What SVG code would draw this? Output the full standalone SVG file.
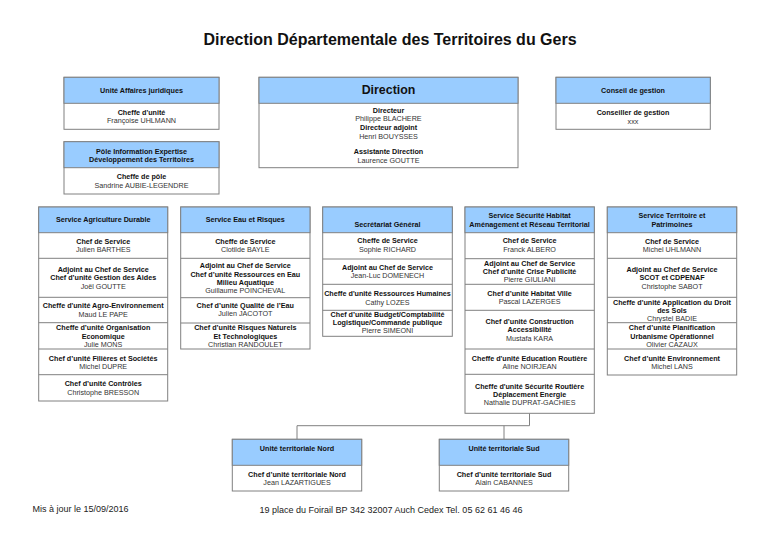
<svg xmlns="http://www.w3.org/2000/svg" width="768" height="543" viewBox="0 0 768 543">
<style>
text{font-family:"Liberation Sans",Arial,sans-serif;text-anchor:middle}
.b{font-size:7.2px;font-weight:bold;fill:#111}
.r{font-size:7.2px;fill:#333}
.hd{fill:#99CCFF;stroke:#808080;stroke-width:1}
.bx{fill:#fff;stroke:#808080;stroke-width:1}
.dv{stroke:#808080;stroke-width:1}
.cn{fill:none;stroke:#808080;stroke-width:1}
</style>
<rect width="768" height="543" fill="#fff"/>
<text x="390" y="45" style="font-size:16px;font-weight:bold;fill:#111">Direction Départementale des Territoires du Gers</text>

<g id="connectors">
<path class="cn" d="M529.5,413.3 V425.7 M297,425.7 H529.5 M297,425.7 V439.3 M504,425.7 V439.3"/>
</g>

<g id="uaj">
<rect class="bx" x="64" y="77.3" width="155" height="52"/>
<rect class="hd" x="64" y="77.3" width="155" height="26"/>
<text class="b" x="141.5" y="93.2">Unité Affaires juridiques</text>
<text class="b" x="141.5" y="114.8">Cheffe d'unité</text>
<text class="r" x="141.5" y="123.2">Françoise UHLMANN</text>
</g>

<g id="direction">
<rect class="bx" x="259" y="77.3" width="259" height="90.4"/>
<rect class="hd" x="259" y="77.3" width="259" height="26"/>
<text x="388.5" y="94.4" style="font-size:12.4px;font-weight:bold;fill:#111">Direction</text>
<text class="b" x="388.5" y="112.5">Directeur</text>
<text class="r" x="388.5" y="121.3">Philippe BLACHERE</text>
<text class="b" x="388.5" y="129.8">Directeur adjoint</text>
<text class="r" x="388.5" y="138.5">Henri BOUYSSES</text>
<text class="b" x="388.5" y="154.2">Assistante Direction</text>
<text class="r" x="388.5" y="162.6">Laurence GOUTTE</text>
</g>

<g id="conseil">
<rect class="bx" x="556" y="77.3" width="154.3" height="52"/>
<rect class="hd" x="556" y="77.3" width="154.3" height="26"/>
<text class="b" x="633" y="93.2">Conseil de gestion</text>
<text class="b" x="633" y="115.2">Conseiller de gestion</text>
<text class="r" x="633" y="123.6">xxx</text>
</g>

<g id="pole">
<rect class="bx" x="64" y="141.7" width="155" height="52.3"/>
<rect class="hd" x="64" y="141.7" width="155" height="26"/>
<text class="b" x="141.5" y="153.5">Pôle Information Expertise</text>
<text class="b" x="141.5" y="161.8">Développement des Territoires</text>
<text class="b" x="141.5" y="179.2">Cheffe de pôle</text>
<text class="r" x="141.5" y="187.5">Sandrine AUBIE-LEGENDRE</text>
</g>

<g id="agri">
<rect class="bx" x="38.7" y="207" width="129" height="194"/>
<rect class="hd" x="38.7" y="207" width="129" height="25.7"/>
<path class="dv" d="M38.7,258.3H167.7M38.7,297.3H167.7M38.7,322.7H167.7M38.7,349H167.7M38.7,374.7H167.7"/>
<text class="b" x="103.2" y="221.8">Service Agriculture Durable</text>
<text class="b" x="103.2" y="243.8">Chef de Service</text>
<text class="r" x="103.2" y="252.2">Julien BARTHES</text>
<text class="b" x="103.2" y="271.5">Adjoint au Chef de Service</text>
<text class="b" x="103.2" y="279.8">Chef d’unité Gestion des Aides</text>
<text class="r" x="103.2" y="288.8">Joël GOUTTE</text>
<text class="b" x="103.2" y="307.8">Cheffe d'unité Agro-Environnement</text>
<text class="r" x="103.2" y="316.5">Maud LE PAPE</text>
<text class="b" x="103.2" y="330.2">Cheffe d’unité Organisation</text>
<text class="b" x="103.2" y="338.5">Economique</text>
<text class="r" x="103.2" y="346.5">Julie MONS</text>
<text class="b" x="103.2" y="360.5">Chef d’unité Filières et Sociétés</text>
<text class="r" x="103.2" y="368.8">Michel DUPRE</text>
<text class="b" x="103.2" y="386.2">Chef d’unité Contrôles</text>
<text class="r" x="103.2" y="394.8">Christophe BRESSON</text>
</g>

<g id="eau">
<rect class="bx" x="180.7" y="207" width="129.3" height="142"/>
<rect class="hd" x="180.7" y="207" width="129.3" height="25.7"/>
<path class="dv" d="M180.7,258.3H310M180.7,297.7H310M180.7,323H310"/>
<text class="b" x="245.3" y="221.8">Service Eau et Risques</text>
<text class="b" x="245.3" y="243.8">Cheffe de Service</text>
<text class="r" x="245.3" y="252.2">Clotilde BAYLE</text>
<text class="b" x="245.3" y="268.2">Adjoint au Chef de Service</text>
<text class="b" x="245.3" y="276.5">Chef d’unité Ressources en Eau</text>
<text class="b" x="245.3" y="284.8">Milieu Aquatique</text>
<text class="r" x="245.3" y="293.2">Guillaume POINCHEVAL</text>
<text class="b" x="245.3" y="307.8">Chef d’unité Qualité de l’Eau</text>
<text class="r" x="245.3" y="316.2">Julien JACOTOT</text>
<text class="b" x="245.3" y="330.2">Chef d’unité Risques Naturels</text>
<text class="b" x="245.3" y="338.5">Et Technologiques</text>
<text class="r" x="245.3" y="346.5">Christian RANDOULET</text>
</g>

<g id="sg">
<rect class="bx" x="322.7" y="207" width="129.6" height="129.3"/>
<rect class="hd" x="322.7" y="207" width="129.6" height="25.7"/>
<path class="dv" d="M322.7,259H452.3M322.7,284.3H452.3M322.7,310.3H452.3"/>
<text class="b" x="387.5" y="227.2">Secrétariat Général</text>
<text class="b" x="387.5" y="243.2">Cheffe de Service</text>
<text class="r" x="387.5" y="251.5">Sophie RICHARD</text>
<text class="b" x="387.5" y="269.5">Adjoint au Chef de Service</text>
<text class="r" x="387.5" y="277.8">Jean-Luc DOMENECH</text>
<text class="b" x="387.5" y="296.2">Cheffe d'unité Ressources Humaines</text>
<text class="r" x="387.5" y="304.5">Cathy LOZES</text>
<text class="b" x="387.5" y="316.8">Chef d’unité Budget/Comptabilité</text>
<text class="b" x="387.5" y="325.2">Logistique/Commande publique</text>
<text class="r" x="387.5" y="333.2">Pierre SIMEONI</text>
</g>

<g id="sshart">
<rect class="bx" x="465" y="207" width="129.3" height="206.3"/>
<rect class="hd" x="465" y="207" width="129.3" height="25.7"/>
<path class="dv" d="M465,258.7H594.3M465,284.3H594.3M465,310.3H594.3M465,349H594.3M465,374.3H594.3"/>
<text class="b" x="529.6" y="217.8">Service Sécurité Habitat</text>
<text class="b" x="529.6" y="226.5">Aménagement et Réseau Territorial</text>
<text class="b" x="529.6" y="243.2">Chef de Service</text>
<text class="r" x="529.6" y="251.5">Franck ALBERO</text>
<text class="b" x="529.6" y="265.8">Adjoint au Chef de Service</text>
<text class="b" x="529.6" y="274.2">Chef d’unité Crise Publicité</text>
<text class="r" x="529.6" y="282.2">Pierre GIULIANI</text>
<text class="b" x="529.6" y="295.8">Chef d’unité Habitat Ville</text>
<text class="r" x="529.6" y="304.2">Pascal LAZERGES</text>
<text class="b" x="529.6" y="323.8">Chef d’unité Construction</text>
<text class="b" x="529.6" y="332.2">Accessibilité</text>
<text class="r" x="529.6" y="340.8">Mustafa KARA</text>
<text class="b" x="529.6" y="360.8">Cheffe d'unité Education Routière</text>
<text class="r" x="529.6" y="368.8">Aline NOIRJEAN</text>
<text class="b" x="529.6" y="388.8">Cheffe d'unité Sécurité Routière</text>
<text class="b" x="529.6" y="396.8">Déplacement Energie</text>
<text class="r" x="529.6" y="405.2">Nathalie DUPRAT-GACHIES</text>
</g>

<g id="stp">
<rect class="bx" x="607.3" y="207" width="129.4" height="168"/>
<rect class="hd" x="607.3" y="207" width="129.4" height="25.7"/>
<path class="dv" d="M607.3,258.3H736.7M607.3,297.3H736.7M607.3,322.7H736.7M607.3,349H736.7"/>
<text class="b" x="672" y="217.8">Service Territoire et</text>
<text class="b" x="672" y="226.5">Patrimoines</text>
<text class="b" x="672" y="243.8">Chef de Service</text>
<text class="r" x="672" y="252.2">Michel UHLMANN</text>
<text class="b" x="672" y="271.5">Adjoint au Chef de Service</text>
<text class="b" x="672" y="279.8">SCOT et CDPENAF</text>
<text class="r" x="672" y="288.8">Christophe SABOT</text>
<text class="b" x="672" y="304.5">Cheffe d'unité Application du Droit</text>
<text class="b" x="672" y="312.8">des Sols</text>
<text class="r" x="672" y="320.8">Chrystel BADIE</text>
<text class="b" x="672" y="330.2">Chef d’unité Planification</text>
<text class="b" x="672" y="338.5">Urbanisme Opérationnel</text>
<text class="r" x="672" y="346.5">Olivier CAZAUX</text>
<text class="b" x="672" y="360.5">Chef d’unité Environnement</text>
<text class="r" x="672" y="368.8">Michel LANS</text>
</g>

<g id="utnord">
<rect class="bx" x="232.3" y="439.3" width="129.4" height="51.7"/>
<rect class="hd" x="232.3" y="439.3" width="129.4" height="26"/>
<text class="b" x="297" y="450.8">Unité territoriale Nord</text>
<text class="b" x="297" y="476.5">Chef d’unité territoriale Nord</text>
<text class="r" x="297" y="484.5">Jean LAZARTIGUES</text>
</g>

<g id="utsud">
<rect class="bx" x="439.3" y="439.3" width="129.4" height="51.7"/>
<rect class="hd" x="439.3" y="439.3" width="129.4" height="26"/>
<text class="b" x="504" y="450.8">Unité territoriale Sud</text>
<text class="b" x="504" y="476.5">Chef d’unité territoriale Sud</text>
<text class="r" x="504" y="484.5">Alain CABANNES</text>
</g>

<text x="80.5" y="511.5" style="font-size:9px;fill:#222">Mis à jour le 15/09/2016</text>
<text x="391" y="512.5" style="font-size:9px;fill:#222">19 place du Foirail BP 342 32007 Auch Cedex Tel. 05 62 61 46 46</text>
</svg>
